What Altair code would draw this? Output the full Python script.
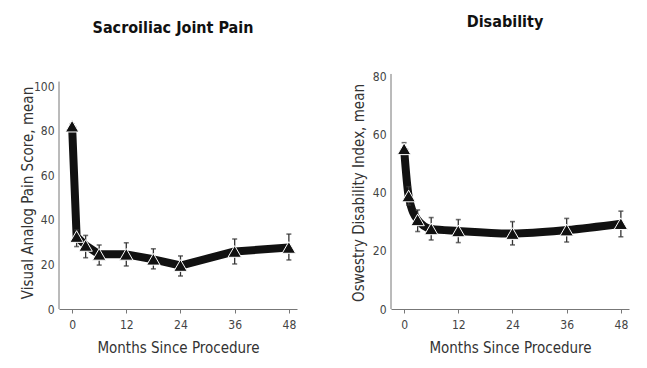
import altair as alt
import pandas as pd

FONT = "'Liberation Sans Narrow', 'DejaVu Sans Condensed', sans-serif"

# Left panel: Sacroiliac Joint Pain
pain_months = [0, 1, 3, 6, 12, 18, 24, 36, 48]
pain_mean = [82, 32.5, 28.5, 24.5, 24.5, 22.3, 19.5, 25.8, 27.6]
pain_low = [81, 28, 23, 19.7, 19.3, 18, 14.8, 20.2, 22]
pain_high = [83, 35.5, 33, 28.7, 29.7, 27, 23.8, 31.4, 33.6]

# Right panel: Disability
odi_months = [0, 1, 3, 6, 12, 24, 36, 48]
odi_mean = [55, 38.8, 30.6, 27.5, 26.8, 25.9, 27.1, 29.3]
odi_low = [53, 35.7, 26.6, 23.7, 22.8, 22, 23, 24.8]
odi_high = [57.1, 42, 34, 31.4, 30.7, 30, 31.1, 33.6]

x_ticks = [0, 12, 24, 36, 48]

W, H = 238, 233


def panel(months, mean, low, high, ytitle, title, ymax, yticks, interp, axis_top, tpad):
    df = pd.DataFrame({"m": months, "v": mean, "lo": low, "hi": high})
    xs = alt.X("m:Q", scale=alt.Scale(domain=[-2.9, 49.8], nice=False, zero=False),
               axis=alt.Axis(values=x_ticks, title="Months Since Procedure", grid=False,
                             tickSize=4, labelPadding=6, titlePadding=10))
    ys = alt.Y("v:Q", scale=alt.Scale(domain=[0, ymax], nice=False),
               axis=alt.Axis(values=yticks, title=ytitle, grid=False, ticks=False,
                             domain=False, labelPadding=5, titlePadding=tpad))
    base = alt.Chart(df)
    axis_line = alt.Chart(pd.DataFrame({"a": [0], "b": [axis_top]})).mark_rule(
        color="#777", strokeWidth=1).encode(
        x=alt.value(0), y=alt.Y("a:Q"), y2="b:Q")
    line = base.mark_line(color="#111", strokeWidth=8, interpolate=interp,
                          strokeJoin="round").encode(x=xs, y=ys)
    err = base.mark_rule(color="#333", strokeWidth=1.3).encode(
        x="m:Q", y="lo:Q", y2="hi:Q")
    cap_lo = base.mark_tick(color="#333", orient="horizontal", size=5, thickness=1.6).encode(
        x="m:Q", y="lo:Q")
    cap_hi = base.mark_tick(color="#333", orient="horizontal", size=5, thickness=1.6).encode(
        x="m:Q", y="hi:Q")
    pts = base.mark_point(shape="triangle-up", filled=True, size=180, color="#111",
                          stroke="white", strokeWidth=1, opacity=1).encode(x=xs, y=ys)
    return alt.layer(axis_line, line, err, cap_lo, cap_hi, pts).properties(
        width=W, height=H,
        title=alt.TitleParams(title, fontSize=16, fontWeight="bold", font=FONT,
                              color="#111", offset=40, anchor="middle", dx=-5))


left = panel(pain_months, pain_mean, pain_low, pain_high,
             "Visual Analog Pain Score, mean", "Sacroiliac Joint Pain",
             104.5, [0, 20, 40, 60, 80, 100], "linear", 102, -2)
right = panel(odi_months, odi_mean, odi_low, odi_high,
              "Oswestry Disability Index, mean", "Disability",
              80, [0, 20, 40, 60, 80], "monotone", 80.7, 6)

chart = alt.hconcat(left, right, spacing=53).configure_view(stroke=None).configure_axis(
    labelFont=FONT, titleFont=FONT, labelFontSize=12, titleFontSize=15,
    labelColor="#444", titleColor="#333", domainColor="#777", tickColor="#777",
    titleFontWeight="normal"
).properties(padding={"left": 12, "top": 6, "right": 5, "bottom": 0})

chart.save("out.html", embed_options={"renderer": "svg", "actions": False})
